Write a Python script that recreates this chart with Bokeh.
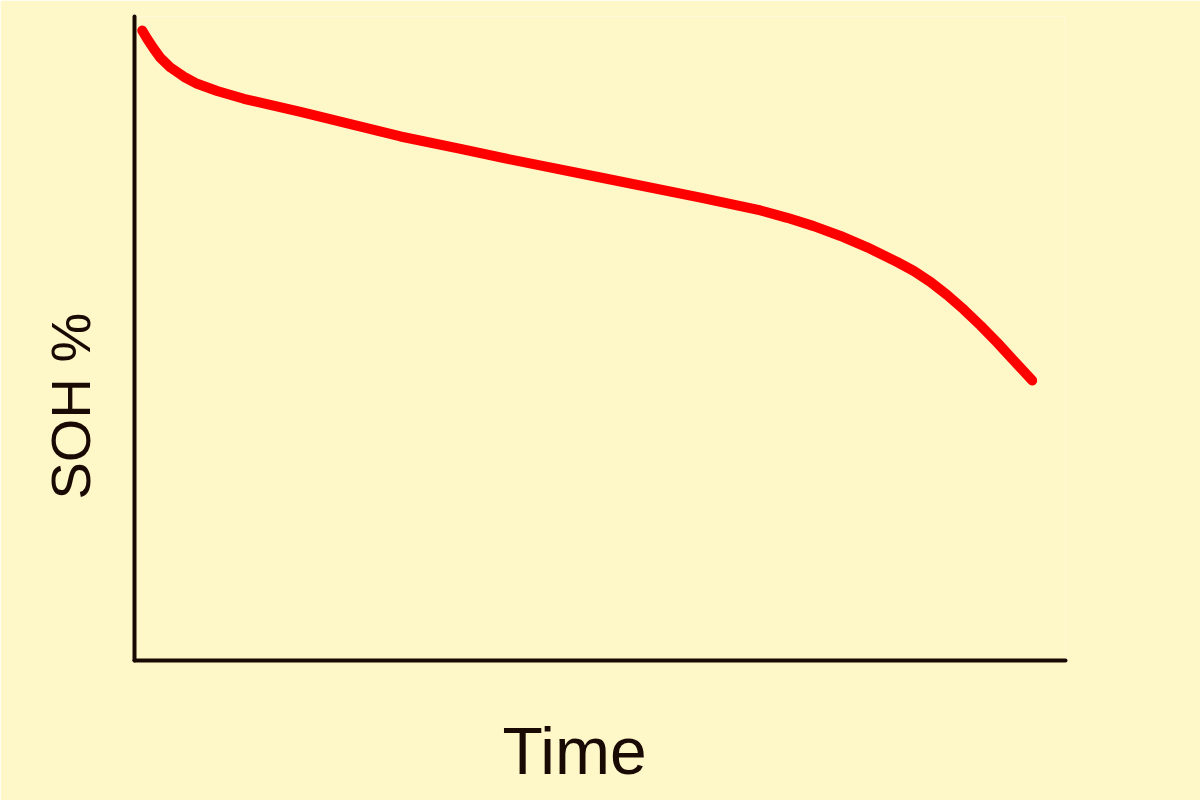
from bokeh.plotting import figure
from bokeh.models import Title, Range1d
from bokeh.embed import file_html
from bokeh.resources import INLINE

# Data (Time in arbitrary units, SOH in %)
time = [0.83, 1.36, 2.07, 2.79, 3.87, 5.30, 6.73, 8.88, 11.74, 17.83, 28.57,
        35.02, 39.31, 50.05, 60.80, 67.24, 70.11, 72.96, 75.83, 78.70, 81.92,
        83.71, 85.50, 87.29, 89.08, 90.87, 92.66, 94.45, 96.42]
soh = [97.83, 96.54, 94.98, 93.56, 92.08, 90.65, 89.55, 88.43, 87.22, 85.20,
       81.37, 79.46, 78.11, 75.00, 71.89, 69.88, 68.74, 67.45, 65.92, 64.16,
       61.88, 60.48, 58.77, 56.75, 54.50, 52.02, 49.38, 46.58, 43.48]
x_label = "Time"
y_label = "SOH %"

BG = "#FEF8C9"
INK = "#1A0A04"
FONT = "Liberation Sans"

p = figure(frame_width=931, frame_height=644,
           min_border_left=134, min_border_right=135,
           min_border_top=16, min_border_bottom=140,
           x_range=Range1d(0, 100), y_range=Range1d(0, 100),
           output_backend="svg", toolbar_location=None,
           background_fill_color=BG, border_fill_color=BG)

p.outline_line_color = None
p.grid.visible = False
for ax in (p.xaxis, p.yaxis):
    ax.axis_line_color = INK
    ax.axis_line_width = 4
    ax.axis_line_cap = "round"
    ax.major_tick_line_color = None
    ax.minor_tick_line_color = None
    ax.major_label_text_font_size = "0px"
    ax.major_label_text_color = None

p.line(time, soh, line_color="#FF0000", line_width=10,
       line_join="round", line_cap="round")

p.add_layout(Title(text=x_label, align="left", offset=368,
                   text_font=FONT, text_font_size="66px",
                   text_font_style="normal", text_color=INK,
                   text_line_height=0.6, standoff=90), "below")
p.add_layout(Title(text=y_label, align="left", offset=161,
                   text_font=FONT, text_font_size="56px",
                   text_font_style="normal", text_color=INK,
                   text_line_height=1.0, standoff=54), "left")

open("out.html", "w").write(file_html(p, INLINE))
